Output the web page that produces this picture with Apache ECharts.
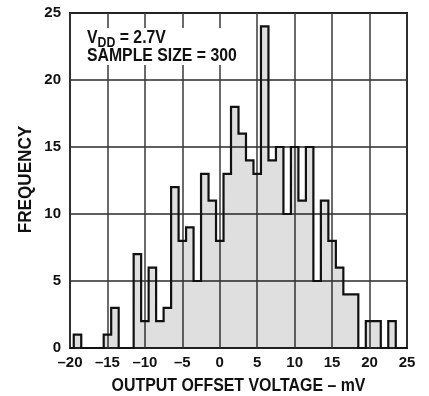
<!DOCTYPE html>
<html>
<head>
<meta charset="utf-8">
<script src="https://cdn.jsdelivr.net/npm/echarts@6/dist/echarts.min.js"></script>
<style>
html,body{margin:0;padding:0;background:#fff;}
#chart{width:429px;height:396px;}
</style>
</head>
<body>
<div id="chart"></div>
<script>
// bin centres (mV) and frequencies
var binCenters = [-20,-19,-18,-17,-16,-15,-14,-13,-12,-11,-10,-9,-8,-7,-6,-5,-4,-3,-2,-1,0,1,2,3,4,5,6,7,8,9,10,11,12,13,14,15,16,17,18,19,20,21,22,23,24,25];
var frequency  = [0,1,0,0,0,1,3,0,0,7,2,6,2,3,12,8,9,5,13,11,8,13,18,16,14,13,24,14,15,10,15,11,15,5,11,8,6,4,4,0,2,2,0,2,0,0];
var xTicks = [-20,-15,-10,-5,0,5,10,15,20,25];
var yTicks = [0,5,10,15,20,25];
var xTitle = 'OUTPUT OFFSET VOLTAGE \u2013 mV';
var yTitle = 'FREQUENCY';
var noteVdd = '2.7V';
var noteSample = 300;

var seriesData = binCenters.map(function(x, i){ return [x, frequency[i]]; });
var sans = "'Liberation Sans',Arial,Helvetica,sans-serif";

var chart = echarts.init(document.getElementById('chart'), null, {renderer:'canvas'});
chart.setOption({
  animation:false,
  backgroundColor:'#ffffff',
  grid:{left:70,right:22,top:13,bottom:48,show:true,borderColor:'#111',borderWidth:2,backgroundColor:'transparent'},
  xAxis:{
    type:'value',min:xTicks[0],max:xTicks[xTicks.length-1],interval:5,
    axisLine:{show:false},axisTick:{show:false},
    splitLine:{show:true,lineStyle:{color:'#3a3a3a',width:1.5}},
    axisLabel:{margin:7,color:'#111',fontWeight:'bold',fontSize:15,fontFamily:sans,
      formatter:function(v){ return v<0 ? '\u2013'+Math.abs(v) : String(v); }}
  },
  yAxis:{
    type:'value',min:yTicks[0],max:yTicks[yTicks.length-1],interval:5,
    axisLine:{show:false},axisTick:{show:false},
    splitLine:{show:true,lineStyle:{color:'#2a2a2a',width:1.5}},
    axisLabel:{margin:9,color:'#111',fontWeight:'bold',fontSize:15,fontFamily:sans}
  },
  series:[{
    type:'line',step:'middle',data:seriesData,symbol:'none',
    lineStyle:{color:'#111',width:2.2,join:'miter'},
    areaStyle:{color:'rgba(0,0,0,0.175)'},
    z:3
  }],
  graphic:[
    {type:'rect',z:1,shape:{x:84,y:28,width:158,height:37},style:{fill:'#fff'}},
    {type:'text',z:2,x:87,y:28.9,scaleX:0.85,
      style:{
        text:'{b|V}{s|DD}{b| = '+noteVdd+'}\n{b|SAMPLE SIZE = '+noteSample+'}',
        verticalAlign:'top',align:'left',
        rich:{
          b:{fontSize:18.6,fontWeight:'bold',fontFamily:sans,fill:'#111',lineHeight:18,verticalAlign:'bottom'},
          s:{fontSize:14.5,fontWeight:'bold',fontFamily:sans,fill:'#111',lineHeight:18,height:7,verticalAlign:'bottom'}
        }
      }},
    {type:'text',z:2,x:238.5,y:385.7,scaleX:0.855,
      style:{text:xTitle,align:'center',verticalAlign:'middle',fontSize:18.6,fontWeight:'bold',fontFamily:sans,fill:'#111'}},
    {type:'text',z:2,x:25.8,y:179.5,rotation:Math.PI/2,scaleX:0.9,
      style:{text:yTitle,align:'center',verticalAlign:'middle',fontSize:19,fontWeight:'bold',fontFamily:sans,fill:'#111'}}
  ]
});
</script>
</body>
</html>
